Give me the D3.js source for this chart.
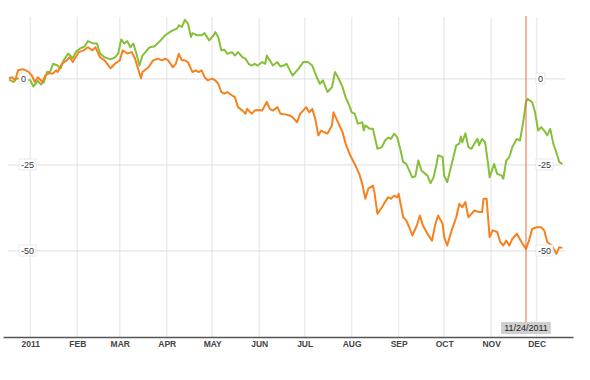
<!DOCTYPE html>
<html>
<head>
<meta charset="utf-8">
<script src="https://cdn.jsdelivr.net/npm/d3@7"></script>
<style>
  body { margin: 0; background: #fff; }
  svg { display: block; font-family: "Liberation Sans", Arial, sans-serif; }
</style>
</head>
<body>
<div id="chart"></div>
<script>
// series (percent change)
const greenDates = ["2010-12-18","2010-12-21","2010-12-23","2010-12-28","2011-01-01","2011-01-03","2011-01-06","2011-01-08","2011-01-10","2011-01-12","2011-01-14","2011-01-16","2011-01-19","2011-01-21","2011-01-23","2011-01-26","2011-01-29","2011-01-31","2011-02-03","2011-02-06","2011-02-08","2011-02-11","2011-02-14","2011-02-16","2011-02-19","2011-02-23","2011-02-26","2011-02-28","2011-03-02","2011-03-04","2011-03-06","2011-03-08","2011-03-10","2011-03-12","2011-03-14","2011-03-16","2011-03-20","2011-03-21","2011-03-24","2011-03-28","2011-03-31","2011-04-03","2011-04-05","2011-04-08","2011-04-09","2011-04-11","2011-04-13","2011-04-15","2011-04-17","2011-04-18","2011-04-21","2011-04-24","2011-04-26","2011-04-29","2011-05-02","2011-05-03","2011-05-05","2011-05-07","2011-05-09","2011-05-11","2011-05-14","2011-05-16","2011-05-18","2011-05-21","2011-05-23","2011-05-25","2011-05-27","2011-05-29","2011-05-31","2011-06-03","2011-06-05","2011-06-06","2011-06-08","2011-06-10","2011-06-13","2011-06-15","2011-06-17","2011-06-19","2011-06-21","2011-06-23","2011-06-27","2011-06-30","2011-07-03","2011-07-06","2011-07-09","2011-07-11","2011-07-13","2011-07-16","2011-07-19","2011-07-21","2011-07-23","2011-07-26","2011-07-28","2011-07-30","2011-08-01","2011-08-03","2011-08-05","2011-08-08","2011-08-09","2011-08-10","2011-08-13","2011-08-15","2011-08-16","2011-08-18","2011-08-21","2011-08-23","2011-08-25","2011-08-27","2011-08-29","2011-08-31","2011-09-02","2011-09-04","2011-09-06","2011-09-10","2011-09-12","2011-09-14","2011-09-16","2011-09-20","2011-09-22","2011-09-24","2011-09-26","2011-09-27","2011-09-30","2011-10-01","2011-10-03","2011-10-06","2011-10-09","2011-10-11","2011-10-12","2011-10-13","2011-10-15","2011-10-17","2011-10-19","2011-10-21","2011-10-23","2011-10-24","2011-10-26","2011-10-28","2011-10-30","2011-10-31","2011-11-03","2011-11-05","2011-11-08","2011-11-09","2011-11-11","2011-11-13","2011-11-15","2011-11-18","2011-11-20","2011-11-22","2011-11-24","2011-11-25","2011-11-28","2011-11-30","2011-12-02","2011-12-04","2011-12-06","2011-12-08","2011-12-10","2011-12-12","2011-12-14","2011-12-16","2011-12-18"];
const greenValues = [-0.2,-0.9,0.2,-0.2,-0.4,-2.2,-0.6,-1.6,-0.9,2.0,2.0,4.4,3.9,3.1,5.4,7.4,6.0,7.8,8.9,9.5,11.0,10.4,10.3,7.4,6.3,5.7,6.3,7.4,11.5,10.3,11.0,9.2,10.3,7.4,3.9,6.8,8.9,9.2,9.5,11.2,12.7,13.6,14.1,14.7,15.6,15.1,17.2,16.1,12.2,13.3,12.7,12.7,13.3,11.2,12.7,13.6,12.2,8.3,8.5,7.3,7.8,6.8,7.8,6.3,5.9,4.4,3.9,4.4,3.9,4.9,4.4,6.8,5.4,3.9,4.9,3.6,3.9,4.4,2.7,1.0,3.0,4.9,4.9,3.9,0.5,-1.4,-0.4,-3.8,-2.4,2.0,0.5,-2.4,-5.3,-7.2,-9.7,-10.1,-13.0,-12.6,-15.0,-13.5,-14.5,-14.5,-16.4,-20.3,-19.8,-17.9,-17.1,-17.4,-15.9,-16.9,-20.3,-24.2,-24.7,-28.6,-28.3,-23.7,-26.6,-28.1,-30.3,-28.6,-24.7,-22.2,-22.7,-28.1,-30.0,-24.7,-19.3,-18.8,-16.7,-18.4,-15.8,-19.8,-20.3,-18.8,-17.4,-19.3,-17.4,-18.4,-24.7,-28.6,-24.7,-27.6,-28.1,-29.0,-23.7,-22.7,-19.8,-17.4,-17.9,-13.0,-6.7,-5.8,-6.7,-9.7,-15.0,-14.0,-15.0,-16.4,-14.5,-18.8,-21.3,-24.2,-24.7];

const orangeDates = ["2010-12-18","2010-12-20","2010-12-22","2010-12-24","2010-12-27","2010-12-29","2010-12-31","2011-01-02","2011-01-04","2011-01-06","2011-01-09","2011-01-11","2011-01-13","2011-01-16","2011-01-18","2011-01-19","2011-01-22","2011-01-25","2011-01-27","2011-01-29","2011-02-02","2011-02-05","2011-02-08","2011-02-11","2011-02-13","2011-02-16","2011-02-19","2011-02-23","2011-02-26","2011-03-01","2011-03-03","2011-03-06","2011-03-09","2011-03-11","2011-03-13","2011-03-15","2011-03-16","2011-03-20","2011-03-23","2011-03-26","2011-03-29","2011-03-31","2011-04-02","2011-04-05","2011-04-07","2011-04-09","2011-04-11","2011-04-13","2011-04-15","2011-04-18","2011-04-20","2011-04-22","2011-04-24","2011-04-26","2011-04-28","2011-05-01","2011-05-03","2011-05-05","2011-05-07","2011-05-09","2011-05-11","2011-05-14","2011-05-16","2011-05-18","2011-05-21","2011-05-23","2011-05-24","2011-05-27","2011-05-29","2011-05-31","2011-06-03","2011-06-06","2011-06-08","2011-06-10","2011-06-13","2011-06-15","2011-06-18","2011-06-21","2011-06-23","2011-06-26","2011-06-28","2011-06-30","2011-07-02","2011-07-04","2011-07-06","2011-07-08","2011-07-10","2011-07-12","2011-07-14","2011-07-16","2011-07-19","2011-07-20","2011-07-23","2011-07-26","2011-07-28","2011-07-31","2011-08-03","2011-08-06","2011-08-08","2011-08-10","2011-08-12","2011-08-15","2011-08-16","2011-08-18","2011-08-21","2011-08-23","2011-08-25","2011-08-27","2011-08-29","2011-08-31","2011-09-01","2011-09-04","2011-09-06","2011-09-08","2011-09-10","2011-09-13","2011-09-15","2011-09-17","2011-09-20","2011-09-23","2011-09-25","2011-09-27","2011-09-30","2011-10-01","2011-10-03","2011-10-06","2011-10-09","2011-10-11","2011-10-13","2011-10-15","2011-10-17","2011-10-19","2011-10-21","2011-10-24","2011-10-26","2011-10-27","2011-10-29","2011-10-31","2011-11-02","2011-11-05","2011-11-07","2011-11-09","2011-11-11","2011-11-13","2011-11-15","2011-11-18","2011-11-21","2011-11-24","2011-11-26","2011-11-28","2011-12-01","2011-12-04","2011-12-06","2011-12-08","2011-12-11","2011-12-13","2011-12-14","2011-12-16","2011-12-18"];
const orangeValues = [0.2,0.5,-0.4,2.5,2.8,2.5,2.0,1.0,-0.9,0.5,-0.9,1.0,1.6,1.6,2.5,2.0,4.5,5.4,6.3,4.9,7.8,8.3,9.2,8.3,9.2,6.3,5.4,3.1,4.5,5.4,8.3,7.4,7.8,6.0,3.1,0.2,2.0,3.4,5.4,5.9,5.4,5.9,5.4,3.4,4.4,7.3,5.4,5.4,4.9,2.0,2.5,2.0,2.5,0.5,-0.4,0.1,-0.4,-1.4,-3.8,-4.3,-3.8,-4.8,-5.3,-8.2,-9.2,-10.1,-8.7,-10.1,-9.2,-9.0,-9.2,-6.7,-8.7,-9.2,-8.2,-10.1,-10.3,-10.6,-11.1,-12.6,-10.1,-9.2,-8.2,-9.7,-8.7,-11.6,-16.4,-15.0,-15.5,-15.9,-13.5,-9.7,-12.6,-15.5,-18.8,-22.2,-24.7,-27.6,-30.5,-34.8,-31.9,-31.0,-32.9,-39.2,-37.3,-35.8,-34.4,-34.8,-33.9,-34.4,-33.4,-40.2,-41.1,-43.1,-45.5,-42.6,-39.7,-42.6,-45.0,-47.0,-42.6,-39.7,-42.1,-46.0,-48.4,-44.0,-40.2,-36.3,-37.3,-35.8,-40.2,-39.2,-38.2,-38.7,-38.7,-34.8,-34.8,-46.0,-44.0,-44.5,-47.4,-48.4,-47.0,-48.4,-46.5,-45.0,-47.4,-49.4,-47.0,-43.6,-43.1,-43.1,-44.0,-47.4,-48.4,-49.9,-50.8,-48.9,-49.1];

const yTicks = [0, -25, -50];
const markerDate = "2011-11-24";
const markerLabel = "11/24/2011";
const monthLabels = ["2011","FEB","MAR","APR","MAY","JUN","JUL","AUG","SEP","OCT","NOV","DEC"];

const width = 590, height = 380;
const parse = d3.timeParse("%Y-%m-%d");

const x = d3.scaleTime()
    .domain([new Date(2010, 11, 14), new Date(2011, 11, 25)])
    .range([3, 573]);
const y = d3.scaleLinear()
    .domain([-75, 18])
    .range([337, 17]);

const svg = d3.select("#chart").append("svg")
    .attr("width", width)
    .attr("height", height);

const months = d3.timeMonth.range(new Date(2011, 0, 1), new Date(2011, 11, 2));

// vertical grid
svg.append("g")
    .selectAll("line")
    .data(months)
    .join("line")
    .attr("x1", d => x(d)).attr("x2", d => x(d))
    .attr("y1", y(18)).attr("y2", y(-75))
    .attr("stroke", "#ececec")
    .attr("stroke-width", 1.5);

// horizontal grid
svg.append("g")
    .selectAll("line")
    .data(yTicks)
    .join("line")
    .attr("x1", 8).attr("x2", 565)
    .attr("y1", d => y(d)).attr("y2", d => y(d))
    .attr("stroke", "#dedede")
    .attr("stroke-width", 1);

const line = d3.line()
    .x(d => x(d[0]))
    .y(d => y(d[1]));

const series = [
    { dates: greenDates, values: greenValues, color: "#86c03a" },
    { dates: orangeDates, values: orangeValues, color: "#f5821f" }
];

svg.append("g")
    .selectAll("path")
    .data(series)
    .join("path")
    .attr("fill", "none")
    .attr("stroke", s => s.color)
    .attr("stroke-width", 2)
    .attr("stroke-linejoin", "round")
    .attr("d", s => line(s.dates.map((d, i) => [parse(d), s.values[i]])));

// marker line
const mx = x(parse(markerDate));
svg.append("line")
    .attr("x1", mx).attr("x2", mx)
    .attr("y1", y(18) - 1).attr("y2", 322)
    .attr("stroke", "#e8693a")
    .attr("stroke-width", 1);

// y labels, both sides
function yLabels(x0) {
    const g = svg.append("g");
    yTicks.forEach(v => {
        const lg = g.append("g");
        const t = lg.append("text")
            .attr("x", x0 + 2)
            .attr("y", y(v))
            .attr("dy", "0.32em")
            .attr("font-size", 9)
            .attr("fill", "#333")
            .text(v);
        const b = t.node().getBBox();
        lg.insert("rect", "text")
            .attr("x", x0)
            .attr("y", y(v) - 6)
            .attr("width", b.width + 4)
            .attr("height", 11)
            .attr("fill", "#fff")
            .attr("stroke", "#e4e4e4")
            .attr("stroke-width", 0.8);
    });
}
yLabels(19);
yLabels(536);

// x axis
const xAxis = d3.axisBottom(x)
    .tickValues(months)
    .tickSize(0)
    .tickPadding(4)
    .tickFormat((d, i) => monthLabels[i]);

const ax = svg.append("g")
    .attr("transform", `translate(0,${y(-75)})`)
    .call(xAxis);
ax.select(".domain").attr("stroke", "#555").attr("stroke-width", 1.5);
ax.selectAll("text")
    .attr("font-size", 8.5)
    .attr("font-weight", "bold")
    .attr("fill", "#444")
    .attr("font-family", "'Liberation Sans', Arial, sans-serif");

// marker flag
const flag = svg.append("g");
const ft = flag.append("text")
    .attr("x", mx)
    .attr("y", 328)
    .attr("dy", "0.35em")
    .attr("text-anchor", "middle")
    .attr("font-size", 9)
    .attr("fill", "#222")
    .text(markerLabel);
const fb = ft.node().getBBox();
flag.insert("rect", "text")
    .attr("x", fb.x - 3)
    .attr("y", 322)
    .attr("width", fb.width + 6)
    .attr("height", 12)
    .attr("fill", "#cfcfcf");
</script>
</body>
</html>
